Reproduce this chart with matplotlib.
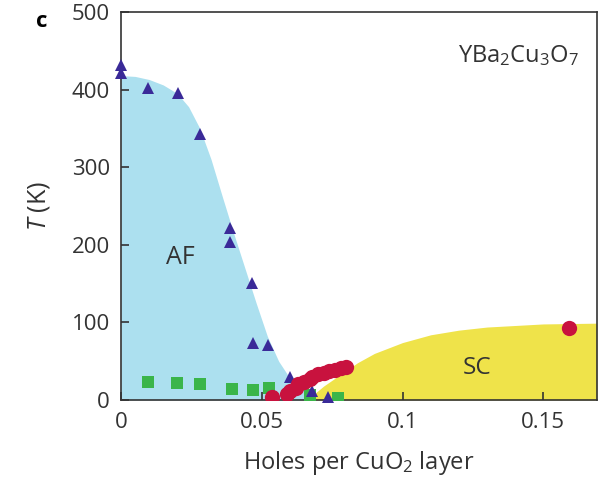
import matplotlib.pyplot as plt

plt.rcParams["font.family"] = ["Open Sans", "DejaVu Sans"]
plt.rcParams["mathtext.fontset"] = "custom"
plt.rcParams["mathtext.rm"] = "Open Sans"
plt.rcParams["mathtext.it"] = "Open Sans:italic"

# Neel temperature (triangles)
af_x = [0.0, 0.0, 0.0096, 0.0202, 0.028, 0.0387, 0.0387, 0.0465, 0.0468, 0.0521, 0.060, 0.068, 0.0734]
af_T = [432, 421, 402, 396, 343, 222, 204, 151, 73, 71, 30, 11, 4]

# spin-glass freezing (squares)
sg_x = [0.0096, 0.020, 0.028, 0.0394, 0.0468, 0.0525, 0.067, 0.077]
sg_T = [23, 22, 20, 14, 13, 15, 6, 3]

# superconducting Tc (circles)
sc_x = [0.0535, 0.059, 0.060, 0.062, 0.063, 0.065, 0.067, 0.068, 0.070, 0.072,
        0.074, 0.076, 0.078, 0.080, 0.159]
sc_T = [4, 8, 12, 16, 20, 23, 27, 30, 33, 35, 37, 39, 41, 43, 93]

# shaded phase boundaries
af_edge_x = [0.0, 0.005, 0.010, 0.015, 0.020, 0.024, 0.028, 0.032, 0.036, 0.040,
             0.044, 0.048, 0.052, 0.056, 0.060, 0.064, 0.068, 0.072, 0.076]
af_edge_T = [418, 417, 413, 406, 395, 378, 350, 310, 262, 215,
             170, 125, 82, 50, 28, 16, 10, 5, 0]

sc_edge_x = [0.066, 0.072, 0.078, 0.084, 0.090, 0.100, 0.110, 0.120, 0.130, 0.140, 0.150, 0.169]
sc_edge_T = [0, 18, 33, 48, 60, 74, 84, 90, 94, 96, 98, 99]

fig = plt.figure(figsize=(5.98, 4.8), dpi=100)
ax = fig.add_axes([0.2023, 0.1667, 0.7957, 0.8083])

ax.fill_between(af_edge_x, 0, af_edge_T, color="#ace0ef", lw=0, zorder=1)
ax.fill_between(sc_edge_x, 0, sc_edge_T, color="#efe34a", lw=0, zorder=1)

ax.plot(sg_x, sg_T, "s", color="#3ab54a", ms=8, mew=0, zorder=3)
ax.plot(af_x, af_T, "^", color="#3a2a98", ms=9, mew=0, zorder=4, clip_on=False)
ax.plot(sc_x, sc_T, "o", color="#c8123e", ms=11, mew=0, zorder=5)

ax.text(0.021, 183, "AF", fontsize=18, color="#333333", ha="center", va="center")
ax.text(0.1266, 41, "SC", fontsize=17.5, color="#333333", ha="center", va="center")
ax.text(0.1625, 444, r"YBa$_2$Cu$_3$O$_7$", fontsize=17, color="#333333",
        ha="right", va="center")

ax.set_xlim(0, 0.169)
ax.set_ylim(0, 500)
ax.set_xticks([0, 0.05, 0.1, 0.15])
ax.set_xticklabels(["0", "0.05", "0.1", "0.15"])
ax.set_yticks([0, 100, 200, 300, 400, 500])
ax.tick_params(direction="in", length=6, width=1.2, labelsize=16,
               colors="#333333")
ax.tick_params(axis="x", pad=9)
ax.tick_params(axis="y", pad=8)
for s in ax.spines.values():
    s.set_linewidth(1.2)
    s.set_color("#333333")

ax.set_xlabel(r"Holes per CuO$_2$ layer", fontsize=17, color="#333333", labelpad=11)
ax.set_ylabel(r"$T$ (K)", fontsize=18, color="#333333", labelpad=14)

fig.text(0.07, 0.955, "c", fontsize=16, fontweight="bold", ha="center", va="center")

fig.savefig("out.png", dpi=100)
